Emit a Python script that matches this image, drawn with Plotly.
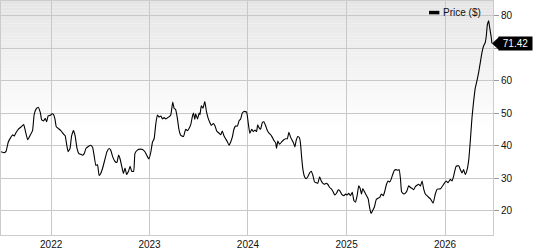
import plotly.graph_objects as go
import pandas as pd

# ---------------- data ----------------
start_date = "2021-06-29"
day_offsets = [
    0, 12, 19, 27, 37, 43, 49, 56, 64, 74, 84, 89, 99, 109, 117, 123, 130, 138, 146, 151,
    158, 164, 169, 175, 183, 189, 195, 200, 205, 212, 222, 232, 238, 244, 249, 256, 262, 269, 275, 282,
    288, 296, 303, 309, 315, 325, 333, 340, 346, 352, 358, 364, 370, 377, 385, 393, 401, 407, 414, 423,
    430, 436, 441, 448, 454, 460, 466, 473, 479, 485, 492, 497, 506, 515, 525, 534, 543, 549, 556, 562,
    568, 574, 580, 586, 593, 599, 605, 611, 617, 623, 630, 637, 642, 648, 654, 660, 667, 677, 685, 692,
    697, 704, 710, 714, 719, 722, 729, 735, 738, 743, 749, 756, 762, 768, 775, 780, 788, 794, 800, 809,
    815, 821, 827, 833, 840, 846, 852, 858, 864, 870, 877, 883, 889, 895, 901, 911, 917, 923, 930, 936,
    942, 948, 952, 957, 963, 969, 975, 982, 988, 994, 1000, 1006, 1012, 1019, 1022, 1027, 1033, 1041, 1049, 1056,
    1062, 1068, 1074, 1080, 1086, 1090, 1095, 1101, 1107, 1111, 1115, 1120, 1126, 1132, 1138, 1145, 1151, 1157, 1163, 1169,
    1175, 1182, 1188, 1194, 1200, 1206, 1212, 1219, 1226, 1232, 1238, 1245, 1251, 1257, 1263, 1272, 1278, 1284, 1290, 1296,
    1303, 1309, 1315, 1321, 1327, 1333, 1337, 1342, 1348, 1356, 1362, 1368, 1373, 1379, 1385, 1392, 1398, 1405, 1411, 1418,
    1423, 1430, 1436, 1442, 1447, 1453, 1459, 1466, 1472, 1477, 1482, 1486, 1494, 1500, 1506, 1512, 1519, 1525, 1531, 1537,
    1543, 1549, 1556, 1562, 1568, 1574, 1580, 1586, 1593, 1603, 1611, 1618, 1630, 1642, 1651, 1658, 1667, 1673, 1679, 1688,
    1698, 1704, 1710, 1716, 1722, 1729, 1735, 1741, 1747, 1753, 1759, 1766, 1772, 1778, 1784, 1790, 1796, 1800, 1804, 1809,
    1812, 1818, 1821,
]
prices = [
    38.1, 37.8, 38.3, 41.1, 42.6, 43.3, 42.9, 44.0, 45.0, 45.7, 46.5, 45.0, 41.8, 43.3, 44.6, 49.5, 51.2, 51.8, 50.1, 47.9,
    47.6, 48.4, 47.3, 49.1, 49.3, 49.8, 49.5, 48.2, 45.8, 45.3, 44.6, 43.5, 43.0, 40.1, 38.1, 39.1, 43.0, 44.6, 43.0, 39.1,
    37.6, 37.3, 37.0, 37.6, 39.1, 39.8, 40.1, 39.4, 36.6, 33.9, 34.1, 30.8, 31.4, 33.1, 35.6, 38.1, 39.1, 38.6, 36.6, 35.1,
    34.8, 37.1, 36.1, 33.6, 31.4, 33.1, 31.1, 32.1, 33.6, 32.1, 32.1, 37.6, 38.6, 38.9, 38.8, 38.1, 36.6, 35.9, 38.1, 41.1,
    42.1, 46.5, 49.4, 48.8, 49.1, 48.2, 48.6, 48.2, 48.5, 48.8, 49.5, 53.4, 51.5, 51.0, 48.5, 45.0, 43.1, 42.8, 45.0, 44.6,
    45.2, 46.5, 49.0, 50.0, 48.0, 49.8, 48.2, 50.0, 49.5, 52.2, 51.5, 53.5, 50.5, 48.5, 47.0, 46.2, 46.8, 46.0, 44.5, 43.8,
    43.3, 44.5, 43.0, 42.1, 41.1, 40.1, 41.1, 42.6, 45.0, 46.0, 46.0, 47.6, 48.2, 50.0, 50.5, 50.3, 47.0, 43.8, 45.0, 44.3,
    44.8, 44.3, 46.4, 45.5, 45.0, 47.0, 47.3, 46.0, 44.6, 43.8, 43.4, 42.6, 41.6, 40.8, 39.1, 41.4, 40.4, 41.1, 41.8, 42.1,
    42.1, 44.1, 42.6, 41.6, 40.6, 39.6, 41.6, 42.8, 42.4, 40.6, 36.6, 32.6, 30.4, 29.8, 30.4, 31.6, 32.1, 30.8, 28.8, 28.6,
    28.4, 30.4, 29.1, 28.4, 28.1, 28.4, 28.1, 27.1, 26.6, 25.8, 24.8, 25.4, 26.4, 26.1, 25.1, 24.6, 25.1, 24.8, 25.3, 24.6,
    25.6, 23.1, 22.6, 24.6, 27.6, 26.6, 25.1, 26.8, 25.8, 24.6, 23.6, 20.6, 19.1, 20.1, 21.1, 23.4, 23.8, 24.1, 25.1, 24.6,
    25.8, 28.1, 29.1, 28.8, 29.6, 31.1, 32.4, 32.6, 32.4, 32.6, 29.6, 25.8, 25.1, 25.4, 26.1, 27.6, 27.1, 26.8, 26.4, 27.4,
    27.8, 28.1, 27.6, 29.1, 26.6, 25.1, 24.6, 24.1, 23.6, 22.3, 25.1, 26.6, 26.7, 28.1, 29.1, 28.6, 29.6, 29.1, 30.6, 33.6,
    33.8, 32.6, 31.6, 32.6, 31.1, 32.6, 35.6, 41.6, 48.5, 53.5, 57.6, 60.1, 62.6, 65.6, 68.6, 70.6, 71.6, 73.6, 77.1, 78.4,
    76.6, 73.6, 71.42,
]
year_ticks = [2022, 2023, 2024, 2025, 2026]
price_ticks = [20, 30, 40, 50, 60, 70, 80]
series_name = "Price ($)"

dates = pd.to_datetime(start_date) + pd.to_timedelta(day_offsets, unit="D")
last_price = prices[-1]
# tick labels hidden where the last-value tag covers them (as in the reference)
price_tick_text = ["" if abs(v - last_price) < 4 else str(v) for v in price_ticks]

FONT = "Liberation Sans, Arial, sans-serif"

fig = go.Figure()
fig.add_trace(go.Scatter(
    x=dates, y=prices, mode="lines",
    line=dict(color="#000000", width=1.1, shape="spline", smoothing=0.4),
    showlegend=False, hoverinfo="skip",
))

# gradient background bands (decoration)
shapes = []
n_bands = 40
grad_frac = 0.55
for i in range(n_bands):
    t = i / (n_bands - 1)
    c = int(round(229 + (255 - 229) * t))
    shapes.append(dict(
        type="rect", xref="paper", yref="paper",
        x0=0, x1=1,
        y0=1 - (i + 1) * grad_frac / n_bands, y1=1 - i * grad_frac / n_bands,
        fillcolor=f"rgb({c},{c},{c})", line=dict(width=0), layer="below",
    ))

# legend swatch
shapes.append(dict(
    type="rect", xref="paper", yref="paper",
    x0=0.870, x1=0.891, y0=0.943, y1=0.958,
    fillcolor="#000000", line=dict(width=0),
))

# arrow tip of the last value tag
shapes.append(dict(
    type="path", xref="paper", yref="y",
    xsizemode="pixel", ysizemode="pixel",
    xanchor=1, yanchor=last_price,
    path="M-1,0 L6,-6.5 L8,-6.5 L8,6.5 L6,6.5 Z",
    fillcolor="#000000", line=dict(width=0),
))

annotations = [
    dict(text=series_name, xref="paper", yref="paper", x=0.979, y=0.951,
         xanchor="right", yanchor="middle", showarrow=False,
         font=dict(family=FONT, size=10, color="#111111")),
    dict(text=f"{last_price:.2f}", xref="paper", yref="y", x=1, y=last_price,
         xshift=22, xanchor="center", yanchor="middle", showarrow=False,
         width=33, height=13, borderpad=0, bgcolor="#000000",
         font=dict(family=FONT, size=10, color="#ffffff")),
]

fig.update_layout(
    width=533, height=250,
    margin=dict(l=0, r=40, t=0, b=10),
    paper_bgcolor="#ffffff",
    plot_bgcolor="rgba(0,0,0,0)",
    shapes=shapes,
    annotations=annotations,
    showlegend=False,
    font=dict(family=FONT, size=10, color="#111111"),
)

fig.update_xaxes(
    type="date",
    range=["2021-06-29", "2026-06-28"],
    tickvals=[f"{y}-01-01" for y in year_ticks],
    ticktext=[str(y) for y in year_ticks],
    showgrid=True, gridcolor="#c8c8c8", gridwidth=1,
    ticks="", showline=True, linecolor="#cccccc", linewidth=1, mirror=True,
    zeroline=False,
    tickfont=dict(family=FONT, size=10, color="#111111"),
)
fig.update_yaxes(
    side="right",
    range=[12.5, 84.45],
    tickvals=price_ticks,
    ticktext=price_tick_text,
    showgrid=True, gridcolor="#c8c8c8", gridwidth=1,
    ticks="outside", ticklen=5, tickcolor="#999999",
    showline=True, linecolor="#cccccc", linewidth=1, mirror=True,
    zeroline=False,
    tickfont=dict(family=FONT, size=10, color="#111111"),
)

fig.write_html("out.html")
